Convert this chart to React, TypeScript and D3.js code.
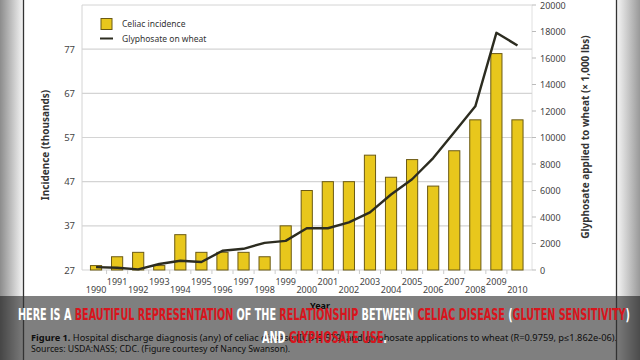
import React, { useEffect, useRef } from 'react';
import * as d3 from 'd3';

const years = d3.range(1990, 2011).map(String);
const celiac = [28, 30, 31, 28, 35, 31, 31, 31, 30, 37, 45, 47, 47, 53, 48, 52, 46, 54, 61, 76, 61];
const glyphosate = [220, 170, 50, 450, 700, 600, 1450, 1600, 2050, 2200, 3150, 3150, 3600, 4350, 5700, 6850, 8450, 10400, 12350, 17900, 16950];
const leftTicks = [27, 37, 47, 57, 67, 77];
const rightTicks = d3.range(0, 20001, 2000);

const caption1 = [
  ['HERE IS A ', 'white'],
  ['BEAUTIFUL REPRESENTATION', 'red'],
  [' OF THE ', 'white'],
  ['RELATIONSHIP', 'red'],
  [' BETWEEN ', 'white'],
  ['CELIAC DISEASE', 'red'],
  [' (', 'white'],
  ['GLUTEN SENSITIVITY', 'red'],
  [')', 'white'],
];
const caption2 = [
  ['AND ', 'white'],
  ['GLYPHOSATE USE', 'red'],
  ['.', 'white'],
];

const font = "'Noto Sans', 'Open Sans', sans-serif";

const App = () => {
  const svgRef = useRef<SVGSVGElement>(null);

  useEffect(() => {
    const svg = d3.select(svgRef.current);
    svg.selectAll('*').remove();

    const x = d3.scaleBand().domain(years).range([85.5, 528]).paddingInner(0.47).paddingOuter(0.235);
    const yL = d3.scaleLinear().domain([27, 87]).range([270, 5]);
    const yR = d3.scaleLinear().domain([0, 20000]).range([270, 5]);
    const plotL = 82, plotR = 532;

    const defs = svg.append('defs');
    const gl = defs.append('linearGradient').attr('id', 'vl');
    gl.append('stop').attr('offset', '0%').attr('stop-color', '#8c8c8c');
    gl.append('stop').attr('offset', '100%').attr('stop-color', '#f4f4f4');
    const gr = defs.append('linearGradient').attr('id', 'vr');
    gr.append('stop').attr('offset', '0%').attr('stop-color', '#f4f4f4');
    gr.append('stop').attr('offset', '100%').attr('stop-color', '#999');

    svg.append('rect').attr('width', 640).attr('height', 360).attr('fill', '#fff');
    svg.append('rect').attr('x', 0).attr('width', 23).attr('height', 360).attr('fill', 'url(#vl)');
    svg.append('rect').attr('x', 617).attr('width', 23).attr('height', 360).attr('fill', 'url(#vr)');

    // frame + grid
    svg.append('line').attr('x1', plotL).attr('x2', plotR).attr('y1', 5).attr('y2', 5).attr('stroke', '#d4d4d4');
    svg.append('line').attr('x1', plotL).attr('x2', plotL).attr('y1', 5).attr('y2', 270).attr('stroke', '#d4d4d4');
    svg.append('line').attr('x1', plotR).attr('x2', plotR).attr('y1', 5).attr('y2', 270).attr('stroke', '#e0e0e0');
    svg.append('g').selectAll('line').data(leftTicks).enter().append('line')
      .attr('x1', plotL).attr('x2', plotR)
      .attr('y1', (d) => yL(d)).attr('y2', (d) => yL(d))
      .attr('stroke', '#d4d4d4').attr('stroke-width', 1.2);

    svg.append('g').selectAll('text').data(leftTicks).enter().append('text')
      .attr('x', 75).attr('y', (d) => yL(d) + 3.5)
      .attr('text-anchor', 'end').attr('font-size', 9.5).attr('fill', '#444').attr('font-family', font)
      .text((d) => d);

    const rt = svg.append('g');
    rt.selectAll('line').data(rightTicks).enter().append('line')
      .attr('x1', plotR).attr('x2', plotR + 4)
      .attr('y1', (d) => yR(d)).attr('y2', (d) => yR(d)).attr('stroke', '#bbb');
    rt.selectAll('text').data(rightTicks).enter().append('text')
      .attr('x', 540).attr('y', (d) => yR(d) + 3.5)
      .attr('font-size', 9).attr('fill', '#444').attr('font-family', font)
      .text((d) => d);

    // axis titles
    svg.append('text').attr('transform', 'translate(49,145) rotate(-90)')
      .attr('text-anchor', 'middle').attr('font-size', 10).attr('font-weight', 'bold')
      .attr('fill', '#333').attr('font-family', font).text('Incidence (thousands)');
    svg.append('text').attr('transform', 'translate(589,137) rotate(-90)')
      .attr('text-anchor', 'middle').attr('font-size', 10).attr('font-weight', 'bold')
      .attr('fill', '#333').attr('font-family', font).text('Glyphosate applied to wheat (\u00d7 1,000 lbs)');

    // x ticks + labels
    svg.append('g').selectAll('line').data(years.slice(1)).enter().append('line')
      .attr('x1', (d) => (x(d) as number) - (x.step() - x.bandwidth()) / 2)
      .attr('x2', (d) => (x(d) as number) - (x.step() - x.bandwidth()) / 2)
      .attr('y1', 270).attr('y2', 274).attr('stroke', '#ccc');
    svg.append('g').selectAll('text').data(years).enter().append('text')
      .attr('x', (d) => (x(d) as number) + x.bandwidth() / 2)
      .attr('y', (d, i) => (i % 2 === 0 ? 293 : 285))
      .attr('text-anchor', 'middle').attr('font-size', 9).attr('fill', '#444').attr('font-family', font)
      .text((d) => d);

    // bars
    svg.append('g').selectAll('rect').data(celiac).enter().append('rect')
      .attr('x', (d, i) => x(years[i]) as number)
      .attr('y', (d) => yL(d))
      .attr('width', x.bandwidth())
      .attr('height', (d) => yL(27) - yL(d))
      .attr('fill', '#e8c71c').attr('stroke', '#6b5a14').attr('stroke-width', 1);

    // line
    const line = d3.line<number>()
      .x((d, i) => (x(years[i]) as number) + x.bandwidth() / 2)
      .y((d) => yR(d));
    svg.append('path').datum(glyphosate).attr('d', line)
      .attr('fill', 'none').attr('stroke', '#2c2c20').attr('stroke-width', 2.4)
      .attr('stroke-linejoin', 'round');

    // legend
    svg.append('rect').attr('x', 101).attr('y', 18.5).attr('width', 11).attr('height', 11)
      .attr('fill', '#e8c71c').attr('stroke', '#6b5a14');
    svg.append('line').attr('x1', 100).attr('x2', 113).attr('y1', 38.5).attr('y2', 38.5)
      .attr('stroke', '#2c2c20').attr('stroke-width', 2);
    svg.append('text').attr('x', 122).attr('y', 27).attr('font-size', 8.5).attr('fill', '#333')
      .attr('font-family', font).text('Celiac incidence');
    svg.append('text').attr('x', 122).attr('y', 41.5).attr('font-size', 8.5).attr('fill', '#333')
      .attr('font-family', font).text('Glyphosate on wheat');

    svg.append('text').attr('x', 320).attr('y', 309).attr('text-anchor', 'middle')
      .attr('font-size', 9).attr('font-weight', 'bold').attr('fill', '#111').attr('font-family', font).text('Year');

    // figure caption
    const fc = svg.append('text').attr('x', 31).attr('y', 341).attr('font-size', 8.5)
      .attr('fill', '#1c1c1c').attr('font-family', font)
      .attr('textLength', 586).attr('lengthAdjust', 'spacingAndGlyphs');
    fc.append('tspan').attr('font-weight', 'bold').text('Figure 1. ');
    fc.append('tspan').text('Hospital discharge diagnosis (any) of celiac disease (ICD-9 579) and glyphosate applications to wheat (R=0.9759, p\u22641.862e-06).');
    svg.append('text').attr('x', 31).attr('y', 352).attr('font-size', 8.5)
      .attr('fill', '#1c1c1c').attr('font-family', font)
      .attr('textLength', 259).attr('lengthAdjust', 'spacingAndGlyphs')
      .text('Sources: USDA:NASS; CDC. (Figure courtesy of Nancy Swanson).');

    // overlay band
    svg.append('rect').attr('x', 0).attr('y', 296).attr('width', 640).attr('height', 64)
      .attr('fill', '#000').attr('opacity', 0.5);
    svg.append('line').attr('x1', 23.5).attr('x2', 23.5).attr('y1', 0).attr('y2', 360).attr('stroke', '#333').attr('stroke-width', 1.3);
    svg.append('line').attr('x1', 616.5).attr('x2', 616.5).attr('y1', 0).attr('y2', 360).attr('stroke', '#333').attr('stroke-width', 1.3);

    const colour = (c: string) => (c === 'red' ? '#d9141c' : '#ffffff');
    const c1 = svg.append('text').attr('x', 18).attr('y', 320).attr('font-size', 16)
      .attr('font-weight', 'bold').attr('font-family', "'DejaVu Sans Condensed', 'DejaVu Sans', sans-serif")
      .attr('textLength', 612).attr('lengthAdjust', 'spacingAndGlyphs');
    caption1.forEach(([t, c]) => c1.append('tspan').attr('fill', colour(c)).text(t));
    const c2 = svg.append('text').attr('x', 262).attr('y', 342.5).attr('font-size', 16)
      .attr('font-weight', 'bold').attr('font-family', "'DejaVu Sans Condensed', 'DejaVu Sans', sans-serif")
      .attr('textLength', 125).attr('lengthAdjust', 'spacingAndGlyphs');
    caption2.forEach(([t, c]) => c2.append('tspan').attr('fill', colour(c)).text(t));
  }, []);

  return (
    <svg ref={svgRef} width={640} height={360}
      style={{ position: 'absolute', left: 0, top: 0, display: 'block' }} />
  );
};

export default App;
